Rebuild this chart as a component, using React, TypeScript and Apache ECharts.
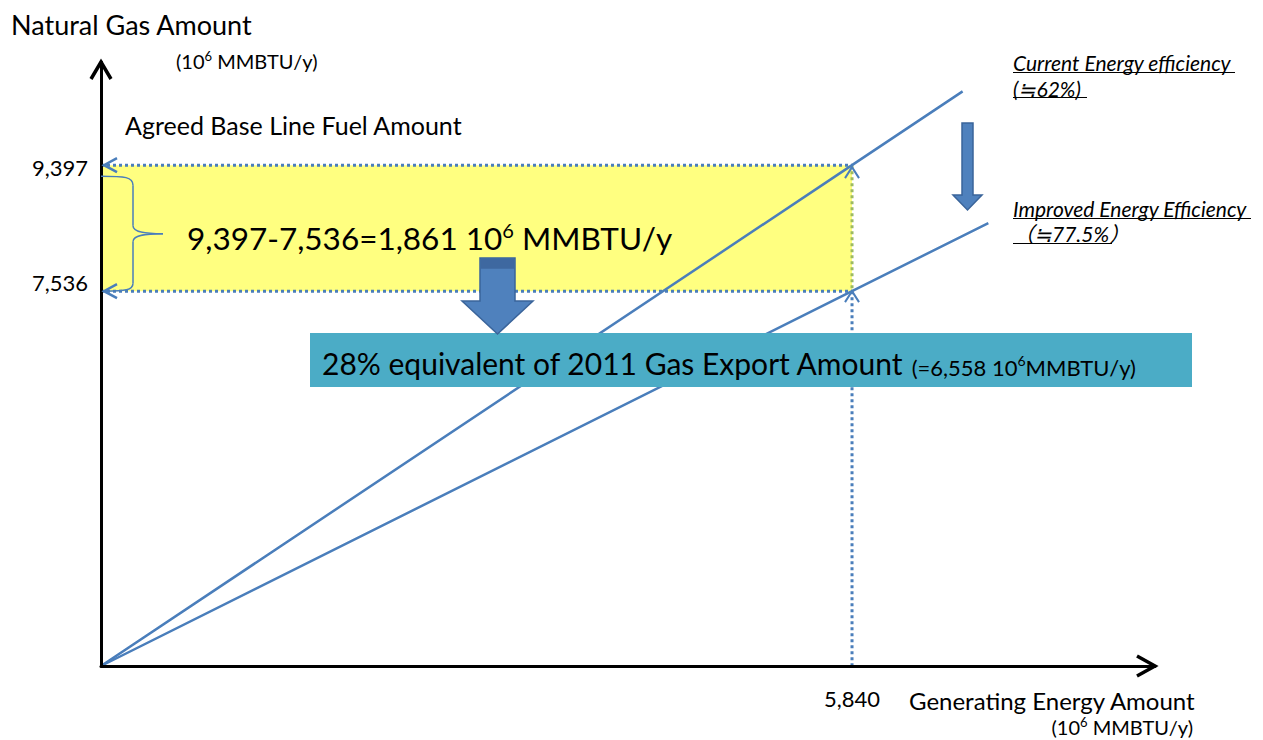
import React, { useEffect, useRef } from "react";
import * as echarts from "echarts";

// ---- scale settings (schematic axes) ----
const X_MIN = 0;
const X_MAX = 8196;
const Y_MIN = 2000;
const Y_MAX = 10920;

// ---- tick labels ----
const xTickValues = [5840];
const yTickValues = [7536, 9397];

// ---- key values ----
const generatingEnergy = 5840;
const baselineFuel = 9397;
const improvedFuel = 7536;

// ---- efficiency lines (x = generating energy, y = gas amount) ----
const currentLineX = [0, 5840, 6700];
const currentLineY = [2000, 9397, 10486];
const improvedLineX = [0, 5840, 6900];
const improvedLineY = [2000, 7536, 8541];

// ---- texts ----
const yAxisTitle = "Natural Gas Amount";
const unitParts = ["(10", "6", " MMBTU/y)"];
const baseLineText = "Agreed Base Line Fuel Amount";
const diffParts = ["9,397-7,536=1,861 10", "6", " MMBTU/y"];
const exportMain = "28% equivalent of 2011 Gas Export Amount";
const exportSubParts = ["(=6,558 10", "6", "MMBTU/y)"];
const currentLabel = ["Current Energy efficiency", "(≒62%)"];
const improvedLabel = ["Improved Energy Efficiency", "（≒77.5%）"];
const xAxisTitle = "Generating Energy Amount";

const FONT = 'Lato, "Noto Sans", "Noto Sans CJK JP", sans-serif';
const BLUE = "#4a7ebb";

const fmt = (v: number) => v.toLocaleString("en-US");
const zip = (xs: number[], ys: number[]) => xs.map((x, i) => [x, ys[i]]);

export default function App() {
  const ref = useRef<HTMLDivElement>(null);
  useEffect(() => {
    const el = ref.current!;
    const chart = echarts.init(el, null, { renderer: "svg" });
    chart.setOption({
      animation: false,
      backgroundColor: "#ffffff",
      textStyle: { fontFamily: FONT },
      grid: { left: 101, right: 108, top: 62, bottom: 74, containLabel: false },
      xAxis: {
        type: "value",
        min: X_MIN,
        max: X_MAX,
        splitLine: { show: false },
        axisTick: { show: false },
        axisLine: { show: true, lineStyle: { color: "#000", width: 3 } },
        axisLabel: {
          customValues: xTickValues,
          formatter: (v: number) => fmt(v),
          fontSize: 22,
          color: "#000",
          fontFamily: FONT,
          margin: 21,
        },
        z: 10,
      },
      yAxis: {
        type: "value",
        min: Y_MIN,
        max: Y_MAX,
        splitLine: { show: false },
        axisTick: { show: false },
        axisLine: { show: true, lineStyle: { color: "#000", width: 3 } },
        axisLabel: {
          customValues: yTickValues,
          formatter: (v: number) => (v === improvedFuel ? `{lo|${fmt(v)}}` : `{hi|${fmt(v)}}`),
          fontSize: 22,
          color: "#000",
          fontFamily: FONT,
          margin: 13,
          rich: {
            lo: { fontSize: 22, fontFamily: FONT, color: "#000", padding: [0, 0, 18, 0] },
            hi: { fontSize: 22, fontFamily: FONT, color: "#000", padding: [5, 0, 0, 0] },
          },
        },
        z: 10,
      },
      series: [
        {
          type: "line",
          data: [],
          z: 1,
          silent: true,
          markArea: {
            silent: true,
            itemStyle: { color: "#ffff80" },
            data: [[{ coord: [X_MIN, baselineFuel] }, { coord: [generatingEnergy, improvedFuel] }]],
          },
        },
        {
          type: "line",
          data: [[X_MIN, baselineFuel], [generatingEnergy, baselineFuel]],
          symbol: "none",
          z: 3,
          lineStyle: { color: BLUE, width: 3, type: [3, 3] },
        },
        {
          type: "line",
          data: [[X_MIN, improvedFuel], [generatingEnergy, improvedFuel]],
          symbol: "none",
          z: 3,
          lineStyle: { color: BLUE, width: 3, type: [3, 3] },
        },
        {
          type: "line",
          data: [[generatingEnergy, baselineFuel], [generatingEnergy, improvedFuel]],
          symbol: "none",
          z: 3,
          lineStyle: { color: "#9cba62", width: 3, type: [3, 3] },
        },
        {
          type: "line",
          data: [[generatingEnergy, improvedFuel], [generatingEnergy, Y_MIN]],
          symbol: "none",
          z: 3,
          lineStyle: { color: BLUE, width: 3, type: [3, 3] },
        },
        {
          type: "line",
          data: zip(currentLineX, currentLineY),
          symbol: "none",
          z: 4,
          lineStyle: { color: BLUE, width: 2.5 },
        },
        {
          type: "line",
          data: zip(improvedLineX, improvedLineY),
          symbol: "none",
          z: 4,
          lineStyle: { color: BLUE, width: 2.5 },
        },
      ],
    });

    const px = (x: number, y: number) =>
      chart.convertToPixel({ gridIndex: 0 }, [x, y]) as number[];
    const yTop = px(X_MIN, Y_MAX);
    const xEnd = px(X_MAX, Y_MIN);
    const pTop = px(generatingEnergy, baselineFuel);
    const pBot = px(generatingEnergy, improvedFuel);
    const lTop = px(X_MIN, baselineFuel);
    const lBot = px(X_MIN, improvedFuel);

    const blackArrow = { stroke: "#000", lineWidth: 3.5, fill: "none", lineJoin: "miter" };
    const blueChev = { stroke: BLUE, lineWidth: 2.5, fill: "none" };
    const txt = (text: string, x: number, y: number, size: number, extra: any = {}) => ({
      type: "text",
      x,
      y,
      z: 120,
      style: {
        text,
        fill: "#000",
        fontSize: size,
        fontFamily: FONT,
        align: "left",
        textAlign: "left",
        verticalAlign: "middle",
        textVerticalAlign: "middle",
        ...extra,
      },
    });
    // text with a superscript part
    const supTxt = (parts: string[], x: number, y: number, size: number, supSize: number, extra: any = {}) => {
      const lh = Math.round(size * 1.15);
      return {
        type: "text",
        x,
        y,
        z: 120,
        style: {
          text: `{n|${parts[0]}}{s|${parts[1]}}{n|${parts[2]}}`,
          fill: "#000",
          fontFamily: FONT,
          align: "left",
          textAlign: "left",
          verticalAlign: "middle",
          textVerticalAlign: "middle",
          rich: {
            n: { fontSize: size, fontFamily: FONT, fill: "#000", color: "#000", lineHeight: lh, verticalAlign: "middle" },
            s: { fontSize: supSize, fontFamily: FONT, fill: "#000", color: "#000", lineHeight: supSize, verticalAlign: "top" },
          },
          ...extra,
        },
      };
    };

    const braceX = lTop[0] + 32;
    const braceTop = lTop[1] + 11;
    const braceBot = lBot[1];
    const braceMid = (braceTop + braceBot) / 2;
    const braceTip = lTop[0] + 62;
    const braceStyle = { stroke: BLUE, lineWidth: 1.5, fill: "none" };

    const elements: any[] = [
      // axis arrowheads
      {
        type: "polyline",
        z: 110,
        shape: { points: [[yTop[0] - 10, yTop[1] + 17], [yTop[0], yTop[1]], [yTop[0] + 10, yTop[1] + 17]] },
        style: blackArrow,
      },
      {
        type: "polyline",
        z: 110,
        shape: { points: [[xEnd[0] - 18, xEnd[1] - 10], [xEnd[0], xEnd[1]], [xEnd[0] - 18, xEnd[1] + 10]] },
        style: blackArrow,
      },
      // left chevrons on dotted lines
      {
        type: "polyline",
        z: 110,
        shape: { points: [[lTop[0] + 16, lTop[1] - 7], [lTop[0] + 3, lTop[1]], [lTop[0] + 16, lTop[1] + 7]] },
        style: blueChev,
      },
      {
        type: "polyline",
        z: 110,
        shape: { points: [[lBot[0] + 16, lBot[1] - 7], [lBot[0] + 3, lBot[1]], [lBot[0] + 16, lBot[1] + 7]] },
        style: blueChev,
      },
      // upward chevrons at 5,840
      {
        type: "polyline",
        z: 110,
        shape: { points: [[pTop[0] - 7, pTop[1] + 13], [pTop[0], pTop[1] + 2], [pTop[0] + 7, pTop[1] + 13]] },
        style: { ...blueChev, lineWidth: 2 },
      },
      {
        type: "polyline",
        z: 110,
        shape: { points: [[pBot[0] - 7, pBot[1] + 11], [pBot[0], pBot[1]], [pBot[0] + 7, pBot[1] + 11]] },
        style: { ...blueChev, lineWidth: 2 },
      },
      // brace
      {
        type: "bezierCurve",
        z: 110,
        shape: { x1: lTop[0], y1: braceTop, cpx1: braceX - 8, cpy1: braceTop, cpx2: braceX, cpy2: braceTop + 1, x2: braceX, y2: braceTop + 9 },
        style: braceStyle,
      },
      {
        type: "line",
        z: 110,
        shape: { x1: braceX, y1: braceTop + 9, x2: braceX, y2: braceMid - 8 },
        style: braceStyle,
      },
      {
        type: "bezierCurve",
        z: 110,
        shape: { x1: braceX, y1: braceMid - 8, cpx1: braceX, cpy1: braceMid - 1, cpx2: braceX + 15, cpy2: braceMid, x2: braceTip, y2: braceMid },
        style: braceStyle,
      },
      {
        type: "bezierCurve",
        z: 110,
        shape: { x1: braceTip, y1: braceMid, cpx1: braceX + 15, cpy1: braceMid, cpx2: braceX, cpy2: braceMid + 1, x2: braceX, y2: braceMid + 8 },
        style: braceStyle,
      },
      {
        type: "line",
        z: 110,
        shape: { x1: braceX, y1: braceMid + 8, x2: braceX, y2: braceBot - 8 },
        style: braceStyle,
      },
      {
        type: "bezierCurve",
        z: 110,
        shape: { x1: braceX, y1: braceBot - 8, cpx1: braceX, cpy1: braceBot - 1, cpx2: braceX - 8, cpy2: braceBot, x2: lTop[0] + 4, y2: braceBot },
        style: braceStyle,
      },
      // big down arrow
      {
        type: "polygon",
        z: 115,
        shape: {
          points: [[480, 258], [515, 258], [515, 301], [533, 301], [497.5, 334], [462, 301], [480, 301]],
        },
        style: { fill: "#4f81bd", stroke: "#3a649a", lineWidth: 1.5 },
      },
      {
        type: "rect",
        z: 116,
        shape: { x: 480.75, y: 258.75, width: 33.5, height: 10 },
        style: { fill: "#3e68a0" },
      },
      // small right down arrow
      {
        type: "polygon",
        z: 115,
        shape: {
          points: [[962, 123], [973, 123], [973, 195], [982, 195], [967.5, 210], [953, 195], [962, 195]],
        },
        style: { fill: "#4f81bd", stroke: "#3a649a", lineWidth: 1.5 },
      },
      // teal box
      {
        type: "rect",
        z: 112,
        shape: { x: 310, y: 333, width: 882, height: 54 },
        style: { fill: "#4bacc6" },
      },
      {
        type: "text",
        x: 322,
        y: 360,
        z: 120,
        style: {
          text: `{a|${exportMain} }{b|${exportSubParts[0]}}{s|${exportSubParts[1]}}{b|${exportSubParts[2]}}`,
          fontFamily: FONT,
          fill: "#000",
          verticalAlign: "middle",
          textVerticalAlign: "middle",
          rich: {
            a: { fontSize: 30, fontFamily: FONT, fill: "#000", color: "#000", lineHeight: 36, verticalAlign: "bottom" },
            b: { fontSize: 22, fontFamily: FONT, fill: "#000", color: "#000", lineHeight: 30, verticalAlign: "bottom" },
            s: { fontSize: 14, fontFamily: FONT, fill: "#000", color: "#000", lineHeight: 14, verticalAlign: "middle" },
          },
        },
      },
      // texts
      txt(yAxisTitle, 11, 24, 27),
      supTxt(unitParts, 176, 61, 20, 13),
      txt(baseLineText, 125, 125, 25),
      supTxt(diffParts, 187, 238, 31.5, 20),
      txt(xAxisTitle, 909, 700, 24),
      supTxt(unitParts, 1193, 727, 20, 13, { align: "right", textAlign: "right" }),
      txt(currentLabel[0], 1013, 62, 21, { fontStyle: "italic" }),
      txt(currentLabel[1], 1013, 88, 21, { fontStyle: "italic" }),
      txt(improvedLabel[0], 1013, 208, 21, { fontStyle: "italic" }),
      txt(improvedLabel[1], 1013, 233, 21, { fontStyle: "italic" }),
      // underlines
      { type: "line", z: 120, shape: { x1: 1013, y1: 72.5, x2: 1235, y2: 72.5 }, style: { stroke: "#000", lineWidth: 1.2 } },
      { type: "line", z: 120, shape: { x1: 1013, y1: 97.5, x2: 1087, y2: 97.5 }, style: { stroke: "#000", lineWidth: 1.2 } },
      { type: "line", z: 120, shape: { x1: 1013, y1: 218.5, x2: 1251, y2: 218.5 }, style: { stroke: "#000", lineWidth: 1.2 } },
      { type: "line", z: 120, shape: { x1: 1013, y1: 243.5, x2: 1112, y2: 243.5 }, style: { stroke: "#000", lineWidth: 1.2 } },
    ];

    chart.setOption({ graphic: { elements } });
    return () => chart.dispose();
  }, []);
  return (
    <div
      ref={ref}
      style={{ position: "fixed", left: 0, top: 0, width: 1263, height: 740, background: "#fff" }}
    />
  );
}
